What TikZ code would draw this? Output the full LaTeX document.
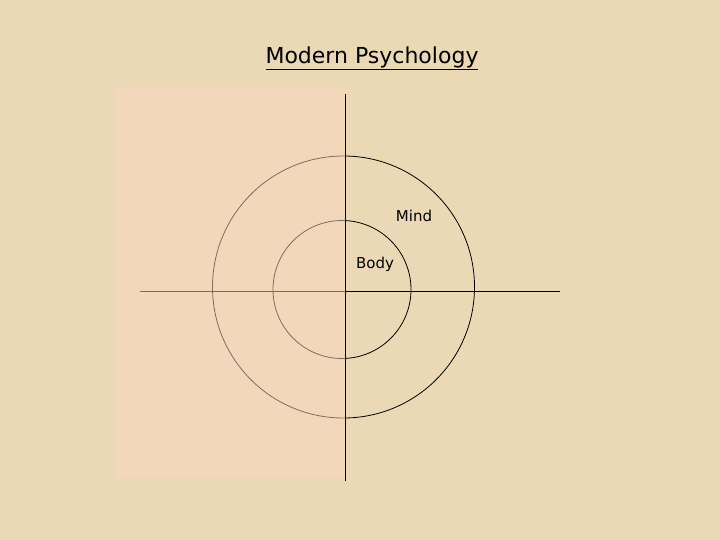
\documentclass[tikz,border=0pt]{standalone}
\usepackage{fontspec}
\setmainfont{DejaVu Sans}
\definecolor{paper}{RGB}{234,217,180}
\definecolor{panel}{RGB}{252,214,192}
\begin{document}
\begin{tikzpicture}[x=1pt,y=-1pt,
  ring/.style={circle,draw=black,line width=0.8pt,inner sep=0pt},
  axis/.style={draw=black,line width=0.9pt},
  lbl/.style={font=\fontsize{15}{18}\selectfont,inner sep=0pt}]
\fill[paper] (0,0) rectangle (720,540);
\useasboundingbox (0,0) rectangle (720,540);
\node[ring,minimum size=262pt] (outer) at (343.5,287) {};
\node[ring,minimum size=138pt] (inner) at (342,289.5) {};
\coordinate (vtop) at (345.5,94);
\coordinate (vbot) at (345.5,481);
\coordinate (hl) at (140,291.5);
\coordinate (hr) at (560,291.5);
\draw[axis] (vtop) -- (vbot);
\draw[axis] (hl) -- (hr);
\fill[panel,opacity=0.5] (115,87) rectangle (344.5,478);
\node[font=\fontsize{22}{26}\selectfont,inner sep=0pt] (title) at (372,58) {\underline{Modern Psychology}};
\node[lbl] (mind) at (414,216) {Mind};
\node[lbl] (body) at (375,264) {Body};
\end{tikzpicture}
\end{document}
